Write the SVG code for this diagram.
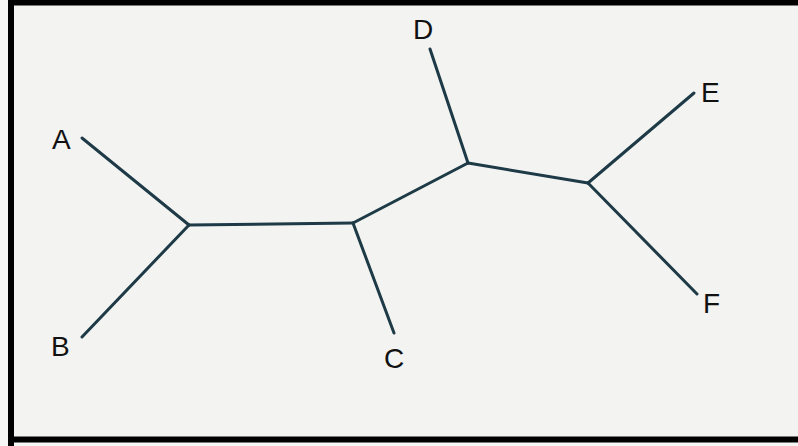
<svg xmlns="http://www.w3.org/2000/svg" width="798" height="446" viewBox="0 0 798 446">
<style>
.edge{stroke:#1d3a46;stroke-width:3;stroke-linecap:round;fill:none}
.lbl{font-family:"Liberation Sans",Arial,sans-serif;font-size:28px;fill:#111}
</style>
<rect x="0" y="0" width="798" height="446" fill="#f6f6f4"/>
<rect x="14" y="5" width="784" height="431" fill="#f3f3f1"/>
<path d="M11,446 V2.5 H798 M11,439.5 H798" stroke="#000" stroke-width="6" fill="none"/>
<g id="connectors">
<line class="edge" x1="82" y1="138" x2="189" y2="225"/>
<line class="edge" x1="82" y1="337" x2="189" y2="225"/>
<line class="edge" x1="189" y1="225" x2="353" y2="223"/>
<line class="edge" x1="353" y1="223" x2="394" y2="333"/>
<line class="edge" x1="353" y1="223" x2="468" y2="163"/>
<line class="edge" x1="430" y1="49" x2="468" y2="163"/>
<line class="edge" x1="468" y1="163" x2="588" y2="183"/>
<line class="edge" x1="588" y1="183" x2="694" y2="93"/>
<line class="edge" x1="588" y1="183" x2="697" y2="294"/>
</g>
<g id="A"><text class="lbl" x="52" y="149">A</text></g>
<g id="B"><text class="lbl" x="51" y="356">B</text></g>
<g id="C"><text class="lbl" x="384" y="368">C</text></g>
<g id="D"><text class="lbl" x="413" y="39">D</text></g>
<g id="E"><text class="lbl" x="701" y="102">E</text></g>
<g id="F"><text class="lbl" x="703" y="313">F</text></g>
</svg>
